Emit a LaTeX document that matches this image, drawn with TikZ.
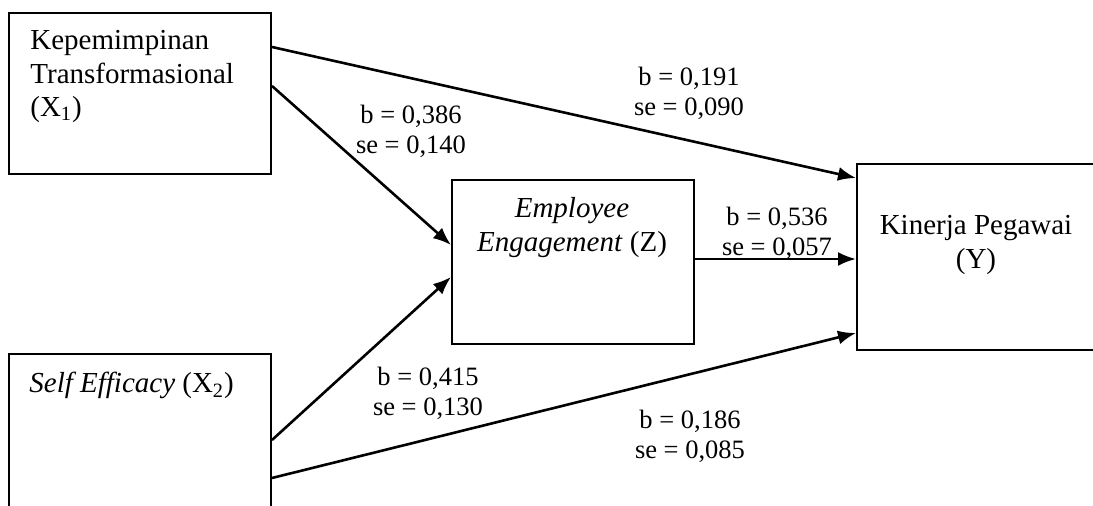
\documentclass[tikz,border=0pt]{standalone}
\usepackage{fontspec}
\setmainfont{Liberation Serif}
\usetikzlibrary{arrows.meta,calc}
\begin{document}
\begin{tikzpicture}[x=0.5pt,y=-0.5pt,
  box/.style={draw,line width=1pt,rectangle,inner sep=0pt,anchor=north west},
  boxtext/.style={inner sep=0pt,font=\fontsize{14.5pt}{16.75pt}\selectfont},
  coef/.style={inner sep=0pt,align=center,font=\fontsize{13.25pt}{15pt}\selectfont},
  link/.style={line width=1.3pt,-{Latex[length=9pt,width=7pt]}}]
\useasboundingbox (0,0) rectangle (1093,506);
\begin{scope}
\clip (0,0) rectangle (1093,506);
% variable boxes
\node[box,minimum width=131pt,minimum height=80.5pt] (x1) at (8,12) {};
\node[box,minimum width=131pt,minimum height=100pt] (x2) at (8,353) {};
\node[box,minimum width=121pt,minimum height=82pt] (z) at (451,179) {};
\node[box,minimum width=130pt,minimum height=93pt] (y) at (856,163) {};
% box texts
\node[boxtext,anchor=north west,align=left] (x1t) at (30,30)
  {Kepemimpinan\\Transformasional\\(X\textsubscript{1})};
\node[boxtext,anchor=north west,align=left] (x2t) at (29,372)
  {\textit{Self Efficacy} (X\textsubscript{2})};
\node[boxtext,anchor=north,align=center] (zt) at (572,197)
  {\textit{Employee}\\\textit{Engagement} (Z)};
\node[boxtext,anchor=north,align=center] (yt) at (976,215)
  {Kinerja Pegawai\\(Y)};
% paths
\draw[link] ($(x1.north east)+(0,35)$) -- ($(y.north west)+(0,15)$);
\draw[link] ($(x1.north east)+(0,74)$) -- ($(z.north west)+(0,66)$);
\draw[link] ($(x2.north east)+(0,87)$) -- ($(z.north west)+(0,98)$);
\draw[link] ($(x2.north east)+(0,125)$) -- ($(y.north west)+(0,170)$);
\draw[link] ($(z.north east)+(0,80)$) -- ($(y.north west)+(0,96)$);
% coefficients
\node[coef] (c1) at (689,93) {b = 0,191\\se = 0,090};
\node[coef] (c2) at (411,131) {b = 0,386\\se = 0,140};
\node[coef] (c3) at (777,233) {b = 0,536\\se = 0,057};
\node[coef] (c4) at (428,393) {b = 0,415\\se = 0,130};
\node[coef] (c5) at (690,436) {b = 0,186\\se = 0,085};
\end{scope}
\end{tikzpicture}
\end{document}
